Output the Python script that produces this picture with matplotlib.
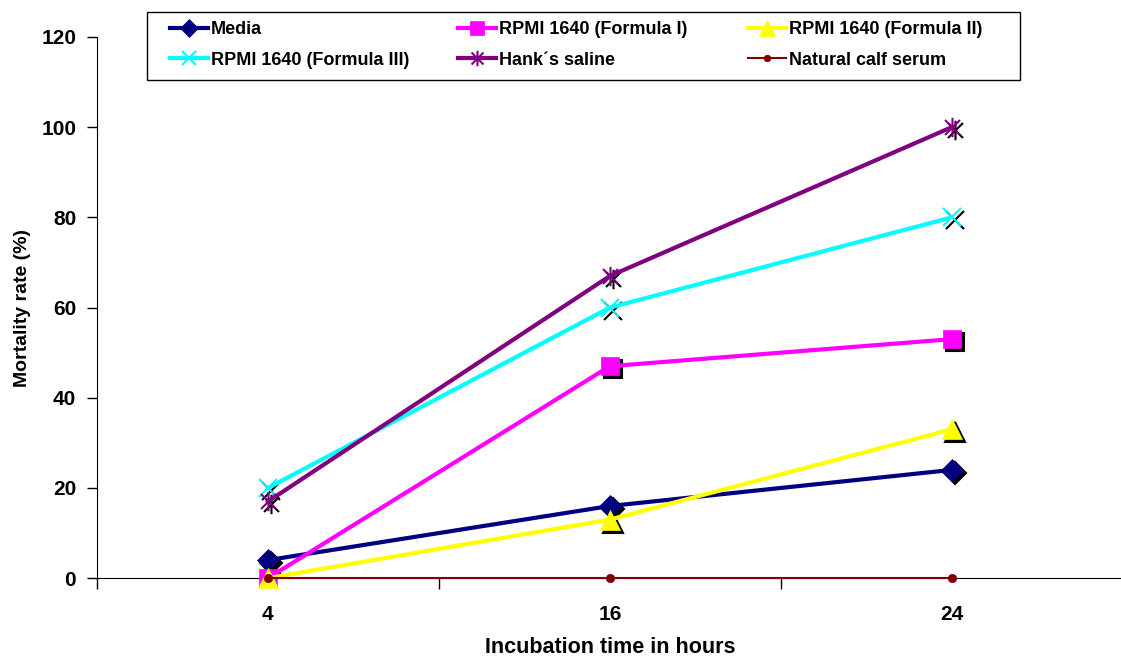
import matplotlib
matplotlib.use("Agg")
import matplotlib.pyplot as plt
from matplotlib.path import Path
from matplotlib.patches import Rectangle
from matplotlib import transforms

plt.rcParams['font.family'] = ['Liberation Sans', 'DejaVu Sans']
plt.rcParams['font.weight'] = 'bold'

# data
hours = ['4', '16', '24']
media = [4, 16, 24]
rpmi_1 = [0, 47, 53]
rpmi_2 = [0, 13, 33]
rpmi_3 = [20, 60, 80]
hanks = [17, 67, 100]
calf_serum = [0, 0, 0]
y_ticks = [0, 20, 40, 60, 80, 100, 120]

# Excel-like star: an x with a vertical bar through it
star = Path([(-1, -1), (1, 1), (-1, 1), (1, -1), (0, -1.3), (0, 1.3)],
            [Path.MOVETO, Path.LINETO, Path.MOVETO, Path.LINETO, Path.MOVETO, Path.LINETO])

series = [
    ('Media', media, '#000080', 'D', 11, 3),
    ('RPMI 1640 (Formula I)', rpmi_1, '#FF00FF', 's', 13, 3),
    ('RPMI 1640 (Formula II)', rpmi_2, '#FFFF00', '^', 14, 3),
    ('RPMI 1640 (Formula III)', rpmi_3, '#00FFFF', 'x', 13, 3),
    ("Hank\u02cas saline", hanks, '#800080', star, 14, 3),
    ('Natural calf serum', calf_serum, '#800000', 'o', 6, 1.5),
]

W, H = 1121, 657
fig = plt.figure(figsize=(W / 100, H / 100), dpi=100)
ax = fig.add_axes([0.0865, 0.12, 0.915, 0.8237])
x = list(range(len(hours)))

shadow = transforms.offset_copy(ax.transData, fig=fig, x=3, y=-3, units='dots')
handles = []
for name, vals, col, mk, ms, lw in series:
    if name != 'Natural calf serum':
        ax.plot(x, vals, linestyle='none', marker=mk, markersize=ms, color='black',
                markeredgecolor='black', markeredgewidth=1.5, transform=shadow, zorder=2)
    thin = mk == 'x' or mk is star
    h, = ax.plot(x, vals, color=col, linewidth=lw, marker=mk, markersize=ms,
                 markeredgecolor=col, markeredgewidth=1.5 if thin else 0.5,
                 label=name, zorder=3, clip_on=False)
    handles.append(h)

ax.set_xlim(-0.5, 2.5)
ax.set_ylim(0, 120)
ax.set_yticks(y_ticks)
ax.set_xticks(x)
ax.set_xticklabels(hours)
ax.set_xticks([-0.5, 0.5, 1.5, 2.5], minor=True)
ax.tick_params(axis='x', which='major', length=0, pad=19, labelsize=15)
ax.tick_params(axis='x', which='minor', length=8, direction='out', width=1)
ax.tick_params(axis='y', length=7, width=1, labelsize=15, pad=8)
for lbl in ax.get_xticklabels() + ax.get_yticklabels():
    lbl.set_fontweight('bold')
ax.spines['top'].set_visible(False)
ax.spines['right'].set_visible(False)

ax.set_xlabel('Incubation time in hours', fontsize=15.5, fontweight='bold', labelpad=10)
ax.set_ylabel('Mortality rate (%)', fontsize=14, fontweight='bold', labelpad=7)

# legend: three equal-width columns inside one box, like the Excel legend
fig.add_artist(Rectangle((147 / W, 1 - 80 / H), (1020 - 147) / W, 68 / H,
                         transform=fig.transFigure, facecolor='white',
                         edgecolor='black', linewidth=1, zorder=5))
col_x = [170, 458, 748]
for c in range(3):
    idx = [c, c + 3]
    leg = fig.legend([handles[i] for i in idx], [series[i][0] for i in idx],
                     loc='upper left', bbox_to_anchor=(col_x[c] / W, 1 - 21 / H),
                     prop={'size': 13, 'weight': 'bold'}, frameon=False,
                     handlelength=2.1, handletextpad=0.15, borderpad=0,
                     borderaxespad=0, labelspacing=0.75, markerscale=0.8)
    leg.set_zorder(6)

fig.savefig('out.png', dpi=100)
